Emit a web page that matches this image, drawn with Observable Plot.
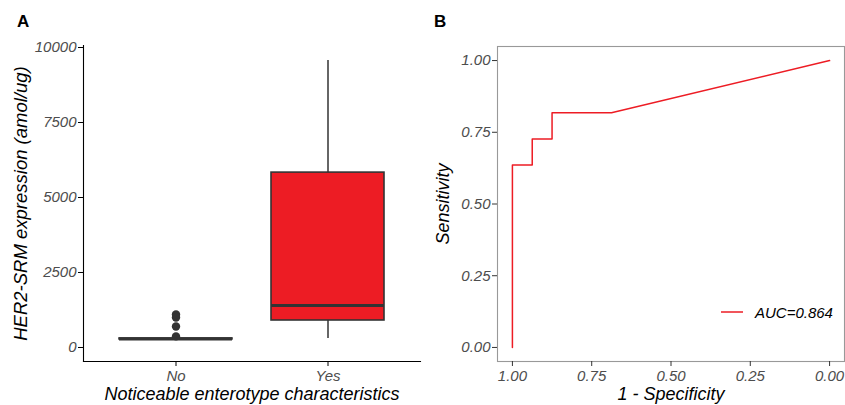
<!DOCTYPE html>
<html><head><meta charset="utf-8">
<script src="https://cdn.jsdelivr.net/npm/d3@7"></script>
<script src="https://cdn.jsdelivr.net/npm/@observablehq/plot@0.6"></script>
<style>
body{margin:0;background:#fff;font-family:"Liberation Sans",Arial,sans-serif;}
#root{position:relative;width:845px;height:405px;overflow:hidden;background:#fff}
.panel{position:absolute;top:0}
.panel svg{overflow:visible}
.panel text{font-style:italic}
.panel g[aria-label$="tick label"] text{fill:#4d4d4d;font-size:15px}
.panel g[aria-label$="axis label"] text{fill:#000;font-size:18px}
#pa g[aria-label="y-axis label"] text{font-size:18.5px}
.tag{position:absolute;font-weight:bold;font-size:17px;line-height:17px;color:#000}
#legend{position:absolute;left:715px;top:302px;display:flex;align-items:center;font-style:italic;font-size:15px;color:#000}
</style>
</head><body>
<div id="root">
  <div class="panel" id="pa" style="left:0"></div>
  <div class="panel" id="pb" style="left:420px"></div>
  <div class="tag" style="left:17px;top:13px">A</div>
  <div class="tag" style="left:434px;top:13px">B</div>
  <div id="legend"><svg width="34" height="20"><line x1="6" x2="28" y1="10" y2="10" stroke="#ED1C24" stroke-width="1.5"/></svg><span id="legtext" style="margin-left:6px"></span></div>
</div>
<script>
// ---- Panel A data (box plot summaries) ----
const groups = ["No", "Yes"];
const whiskerLow = [262, 300];
const q1 = [270, 900];
const median = [285, 1400];
const q3 = [300, 5830];
const whiskerHigh = [305, 9570];
const boxFill = ["#ffffff", "#ED1C24"];
const outlierGroup = ["No", "No", "No", "No"];
const outlierValue = [1100, 1000, 700, 370];
const yTicksA = [0, 2500, 5000, 7500, 10000];

// ---- Panel B data (ROC curve) ----
const specificity = [1, 1, 0.9375, 0.9375, 0.875, 0.875, 0.6875, 0];
const sensitivity = [0, 0.636, 0.636, 0.727, 0.727, 0.818, 0.818, 1];
const ticksB = [1, 0.75, 0.5, 0.25, 0];
const aucLabel = "AUC=0.864";

const boxes = groups.map((g, i) => ({group: g, lo: whiskerLow[i], q1: q1[i], med: median[i], q3: q3[i], hi: whiskerHigh[i], fill: boxFill[i]}));
const outliers = outlierGroup.map((g, i) => ({group: g, value: outlierValue[i]}));
const roc = specificity.map((s, i) => ({spec: s, sens: sensitivity[i]}));

const font = {fontFamily: '"Liberation Sans", Arial, sans-serif', fontSize: "15px", background: "transparent", overflow: "visible"};

const plotA = Plot.plot({
  width: 420, height: 405,
  marginLeft: 83, marginRight: 0, marginTop: 45, marginBottom: 44,
  style: font,
  x: {type: "band", domain: groups, paddingInner: 0.255, paddingOuter: 0.229},
  y: {domain: [-467, 10067]},
  marks: [
    Plot.axisY({ticks: yTicksA, tickFormat: d => String(d), tickSize: 5, tickPadding: 2, stroke: "#000",
      label: "HER2-SRM expression (amol/ug)", labelAnchor: "center", labelOffset: 70, labelArrow: "none"}),
    Plot.axisX({tickSize: 5, tickPadding: 4, stroke: "#000",
      label: "Noticeable enterotype characteristics", labelAnchor: "center", labelOffset: 38, labelArrow: "none"}),
    Plot.frame({anchor: "left", stroke: "#000", strokeWidth: 1.1}),
    Plot.frame({anchor: "bottom", stroke: "#000", strokeWidth: 1.1}),
    Plot.dot(outliers, {x: "group", y: "value", r: 4.2, fill: "#333", stroke: "none"}),
    Plot.ruleX(boxes, {x: "group", y1: "lo", y2: "q1", stroke: "#333", strokeWidth: 1.5}),
    Plot.ruleX(boxes, {x: "group", y1: "q3", y2: "hi", stroke: "#333", strokeWidth: 1.5}),
    Plot.barY(boxes, {x: "group", y1: "q1", y2: "q3", fill: "fill", stroke: "#333", strokeWidth: 1.6}),
    Plot.tickY(boxes, {x: "group", y: "med", stroke: "#333", strokeWidth: 3.2})
  ]
});
document.getElementById("pa").append(plotA);

const plotB = Plot.plot({
  width: 425, height: 405,
  marginLeft: 77, marginRight: 1, marginTop: 46, marginBottom: 44,
  style: font,
  x: {domain: [1.047, -0.047]},
  y: {domain: [-0.049, 1.049]},
  marks: [
    Plot.frame({stroke: "#999", strokeWidth: 1.1}),
    Plot.axisY({ticks: ticksB, tickFormat: d3.format(".2f"), tickSize: 5, tickPadding: 2, stroke: "#333",
      label: "Sensitivity", labelAnchor: "center", labelOffset: 61, labelArrow: "none"}),
    Plot.axisX({ticks: ticksB, tickFormat: d3.format(".2f"), tickSize: 5, tickPadding: 4, stroke: "#333",
      label: "1 - Specificity", labelAnchor: "center", labelOffset: 38, labelArrow: "none"}),
    Plot.line(roc, {x: "spec", y: "sens", stroke: "#ED1C24", strokeWidth: 1.5, curve: "linear"})
  ]
});
document.getElementById("pb").append(plotB);
document.getElementById("legtext").textContent = aucLabel;
</script>
</body></html>
